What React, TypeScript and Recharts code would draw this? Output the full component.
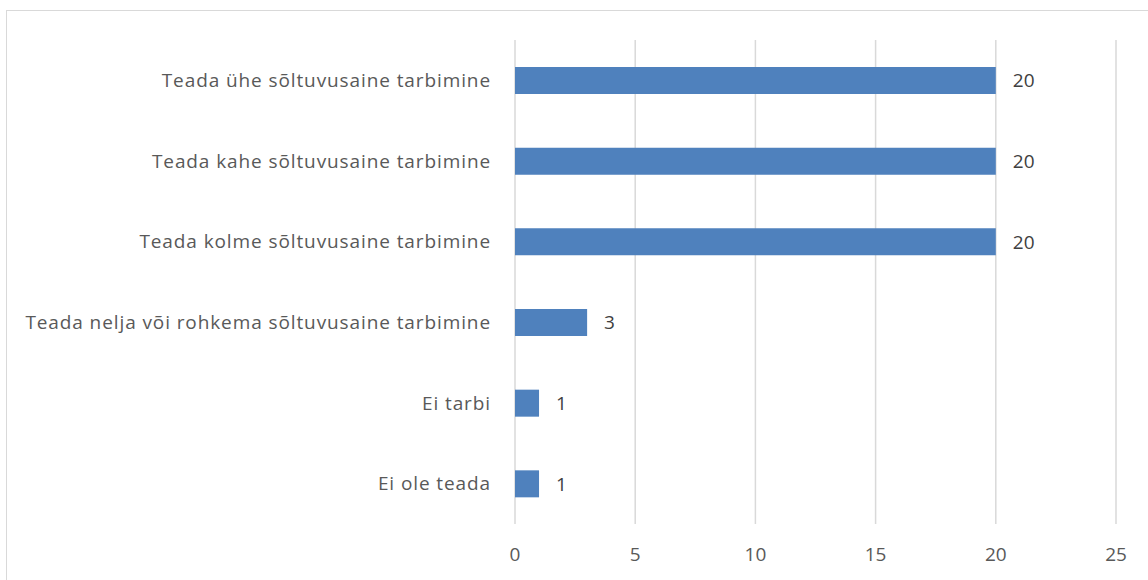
import React from "react";
import { BarChart, Bar, XAxis, YAxis, CartesianGrid, LabelList } from "recharts";

const categories = [
  "Teada ühe sõltuvusaine tarbimine",
  "Teada kahe sõltuvusaine tarbimine",
  "Teada kolme sõltuvusaine tarbimine",
  "Teada nelja või rohkema sõltuvusaine tarbimine",
  "Ei tarbi",
  "Ei ole teada",
];
const values = [20, 20, 20, 3, 1, 1];
const xTicks = [0, 5, 10, 15, 20, 25];

const data = categories.map((name, i) => ({ name, value: values[i] }));

const FONT = "'Open Sans', 'Liberation Sans', sans-serif";

export default function App() {
  return (
    <div style={{ position: "absolute", left: 0, top: 0, width: 1148, height: 580, overflow: "hidden", background: "#fff" }}>
      <div style={{ position: "absolute", left: 6, top: 10, width: 1200, height: 700, border: "1px solid #d9d9d9", boxSizing: "border-box" }} />
      <div style={{ position: "absolute", left: 0, top: 0 }}>
        <BarChart
          width={1148}
          height={580}
          data={data}
          layout="vertical"
          margin={{ top: 40, right: 32, bottom: 16, left: 0 }}
          style={{ fontFamily: FONT }}
        >
          <CartesianGrid horizontal={false} vertical={true} stroke="#d9d9d9" strokeWidth={1.5} />
          <XAxis
            type="number"
            domain={[0, 25]}
            ticks={xTicks}
            axisLine={false}
            tickLine={false}
            tickSize={0}
            tickMargin={24}
            height={40}
            tick={{ fill: "#595959", fontSize: 19, fontFamily: FONT }}
          />
          <YAxis
            type="category"
            dataKey="name"
            width={515}
            axisLine={false}
            tickLine={false}
            tickSize={0}
            tickMargin={24}
            tick={{ fill: "#595959", fontSize: 19, fontFamily: FONT, letterSpacing: 0.9 }}
            interval={0}
          />
          <Bar dataKey="value" fill="#4f81bd" barSize={27} isAnimationActive={false}>
            <LabelList dataKey="value" position="right" offset={17} fill="#404040" fontSize={19} fontFamily={FONT} />
          </Bar>
        </BarChart>
      </div>
    </div>
  );
}
